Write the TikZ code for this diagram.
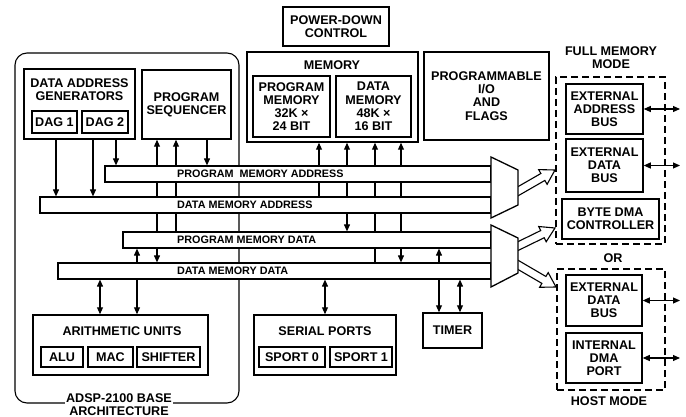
\documentclass[tikz,border=0pt]{standalone}
\usepackage{fontspec}
\setmainfont{Liberation Sans}
\usetikzlibrary{calc,arrows.meta}
\pgfdeclarelayer{bg}
\pgfsetlayers{bg,main}
\newcommand\hollowarrow[2]{%
  \path ($(#2)!14pt!(#1)$) coordinate (hb);
  \draw[harrow] ($(#1)!4pt!90:(#2)$) -- ($(hb)!4pt!90:(#2)$) -- ($(hb)!8.5pt!90:(#2)$) -- (#2)
     -- ($(hb)!8.5pt!-90:(#2)$) -- ($(hb)!4pt!-90:(#2)$) -- ($(#1)!4pt!-90:(#2)$) -- cycle;}
\begin{document}
\begin{tikzpicture}[x=1pt,y=-1pt,
  every node/.style={font=\fontsize{12.6}{13.2}\selectfont\bfseries, inner sep=0pt, align=center},
  sz/.style 2 args={minimum width=#1pt, minimum height=#2pt},
  box/.style={draw, line width=1.5pt, fill=white},
  bus/.style={draw, line width=1.2pt, fill=white},
  dbox/.style={draw, line width=1.2pt, dash pattern=on 7pt off 4pt},
  buslbl/.style={font=\fontsize{10.8}{12}\selectfont\bfseries, anchor=west},
  conn/.style={line width=1.05pt},
  harrow/.style={draw, line width=1.1pt, fill=white, line join=miter},
  mux/.style={draw, line width=1.3pt, fill=white},
  >={Triangle[length=7pt,width=6pt]}]
\useasboundingbox (0,0) rectangle (686,417);

% --- x positions of vertical connectors
\foreach \xx in {56,93,100,116,137,157,176,207,319,325,347,375,401,439,460,680}
  {\coordinate (x\xx) at (\xx,0);}

% --- boxes
\node[box, sz={111}{70}] (dag) at (79.5,104) {};
\node (dagt) at (79.5,89.5) {DATA ADDRESS\\GENERATORS};
\node[box, sz={45}{22}] (dag1) at (54.5,122) {DAG 1};
\node[box, sz={46}{22}] (dag2) at (105,122) {DAG 2};
\node[box, sz={89}{69}] (ps) at (186.5,104.5) {PROGRAM\\SEQUENCER};
\node[box, sz={106}{39}] (pd) at (336,26.5) {POWER-DOWN\\CONTROL};
\node[box, sz={171}{90}] (mem) at (332.5,97) {};
\node (memt) at (332,65) {MEMORY};
\node[box, sz={77}{61}] (pm) at (291.5,106.5) {PROGRAM\\MEMORY\\32K ×\\24 BIT};
\node[box, sz={75}{61}] (dm) at (373.5,106.5) {DATA\\MEMORY\\48K ×\\16 BIT};
\node[box, sz={125}{88}] (pio) at (486.5,96) {PROGRAMMABLE\\I/O\\AND\\FLAGS};

% --- buses
\node[bus, sz={386}{16}] (pma) at (298,174) {};
\node[buslbl] (pmal) at (177,174) {PROGRAM\ \ MEMORY ADDRESS};
\node[bus, sz={451}{16}] (dmab) at (265.5,205) {};
\node[buslbl] (dmal) at (177,205) {DATA MEMORY ADDRESS};
\node[bus, sz={368}{16}] (pmd) at (307,240) {};
\node[buslbl] (pmdl) at (177,240) {PROGRAM MEMORY DATA};
\node[bus, sz={433}{16}] (dmd) at (274.5,271) {};
\node[buslbl] (dmdl) at (177,271) {DATA MEMORY DATA};

% --- lower units
\node[box, sz={175}{60}] (au) at (120.5,345) {};
\node (aut) at (122,331) {ARITHMETIC UNITS};
\node[box, sz={42}{20}] (alu) at (62,357) {ALU};
\node[box, sz={45}{20}] (mac) at (110.5,357) {MAC};
\node[box, sz={63}{20}] (sh) at (168.5,357) {SHIFTER};
\node[box, sz={142}{60}] (sp) at (325,345) {};
\node (spt) at (325,331) {SERIAL PORTS};
\node[box, sz={66}{20}] (sp0) at (292,357) {SPORT 0};
\node[box, sz={62}{20}] (sp1) at (361,357) {SPORT 1};
\node[box, sz={59}{35}] (timer) at (452.5,330.5) {TIMER};
\node[fill=white, inner sep=1.5pt] (basel) at (119,404.5) {ADSP-2100 BASE\\ARCHITECTURE};

% --- external interface
\node[dbox, sz={109}{167}] (fm) at (610.5,160.5) {};
\node (fmt) at (611,57.5) {FULL MEMORY\\MODE};
\node[box, sz={77}{50}] (eab) at (604.5,109) {EXTERNAL\\ADDRESS\\BUS};
\node[box, sz={77}{53}] (edb) at (604.5,165.5) {EXTERNAL\\DATA\\BUS};
\node[box, sz={97}{40}] (bdma) at (610.5,219) {BYTE DMA\\CONTROLLER};
\node (or) at (613,258) {OR};
\node[dbox, sz={108}{121}] (hm) at (611,329.5) {};
\node (hmt) at (609,401) {HOST MODE};
\node[box, sz={76}{51}] (edb2) at (604,300.5) {EXTERNAL\\DATA\\BUS};
\node[box, sz={76}{50}] (idma) at (604,358) {INTERNAL\\DMA\\PORT};

\draw[conn,<->] (eab.east) -- (eab.east -| x680);
\draw[conn,<->] (edb.east) -- (edb.east -| x680);
\draw[conn,<->] (edb2.east) -- (edb2.east -| x680);
\draw[conn,<->] (idma.east) -- (idma.east -| x680);

% --- multiplexers
\draw[mux] (491,157) -- (518,170) -- (518,205) -- (491,218) -- cycle;
\draw[mux] (491,225) -- (518,238) -- (518,273) -- (491,287) -- cycle;

\begin{pgfonlayer}{bg}
\node[draw, line width=1.1pt, rounded corners=12pt, sz={224}{350}] (base) at (127,228) {};
\draw[conn,->] (x56 |- dag1.south) -- (x56 |- dmab.north);
\draw[conn,->] (x93 |- dag2.south) -- (x93 |- dmab.north);
\draw[conn,->] (x116 |- dag.south) -- (x116 |- pma.north);
\draw[conn,<->] (x157 |- ps.south) -- (x157 |- dmd.north);
\draw[conn,<-] (x176 |- ps.south) -- (x176 |- pmd.north);
\draw[conn,->] (x207 |- ps.south) -- (x207 |- pma.north);
\draw[conn,<->] (x137 |- pmd.south) -- (x137 |- au.north);
\draw[conn,<->] (x100 |- dmd.south) -- (x100 |- au.north);
\draw[conn,<-] (x319 |- mem.south) -- (x319 |- dmab.north);
\draw[conn,<->] (x347 |- mem.south) -- (x347 |- pmd.north);
\draw[conn,<-] (x375 |- mem.south) -- (x375 |- dmd.north);
\draw[conn,<->] (x401 |- mem.south) -- (x401 |- dmd.north);
\draw[conn,<->] (x439 |- pmd.south) -- (x439 |- timer.north);
\draw[conn,<->] (x460 |- dmd.south) -- (x460 |- timer.north);
\draw[conn,<->] (x325 |- dmd.south) -- (x325 |- sp.north);
% hollow bus arrows
\coordinate (a1s) at (508,197); \coordinate (a1e) at (555,170);
\coordinate (a2s) at (508,251); \coordinate (a2e) at (555,228);
\coordinate (a3s) at (508,259); \coordinate (a3e) at (556,287);
\hollowarrow{a1s}{a1e}
\hollowarrow{a2s}{a2e}
\hollowarrow{a3s}{a3e}
\end{pgfonlayer}
\end{tikzpicture}
\end{document}
